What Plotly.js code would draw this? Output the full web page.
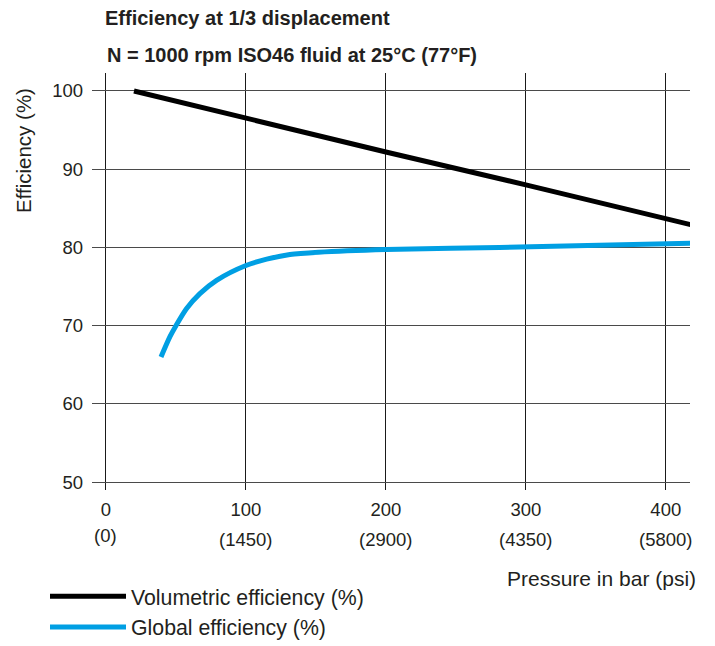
<!DOCTYPE html>
<html>
<head>
<meta charset="utf-8">
<script src="https://cdn.plot.ly/plotly-3.0.1.min.js"></script>
<style>html,body{margin:0;padding:0;background:#fff;}#chart{width:715px;height:646px;}</style>
</head>
<body>
<div id="chart"></div>
<script>
// ---- data ----
const titleLine1 = "Efficiency at 1/3 displacement";
const titleLine2 = "N = 1000 rpm ISO46 fluid at 25°C (77°F)";
const xTickValues = [0, 100, 200, 300, 400];
const xTickBar = ["0", "100", "200", "300", "400"];
const xTickPsi = ["(0)", "(1450)", "(2900)", "(4350)", "(5800)"];
const yTickValues = [50, 60, 70, 80, 90, 100];
const xAxisTitle = "Pressure in bar (psi)";
const yAxisTitle = "Efficiency (%)";

const volName = "Volumetric efficiency (%)";
const volPressure = [20, 100, 200, 300, 418];
const volEfficiency = [100, 96.5, 92.2, 88.0, 82.9];

const globName = "Global efficiency (%)";
const globPressure = [39.3, 45.7, 50, 57.6, 67.1, 79, 100, 114.8, 131.4, 151.7, 200, 281, 418];
const globEfficiency = [66.0, 68.6, 70.0, 72.2, 74.1, 75.8, 77.7, 78.5, 79.1, 79.4, 79.75, 80.0, 80.55];

// ---- layout helpers ----
const W = 715, H = 646;
const M = {l: 92, r: 25, t: 73, b: 156};
const PW = W - M.l - M.r, PH = H - M.t - M.b;
const px2x = p => (p - M.l) / PW;
const py2y = p => (H - M.b - p) / PH;

const font = "Liberation Sans, Arial, sans-serif";
const txt = "#231f20";

const traces = [
  {x: volPressure, y: volEfficiency, name: volName, type: "scatter", mode: "lines",
   line: {color: "#000000", width: 5}},
  {x: globPressure, y: globEfficiency, name: globName, type: "scatter", mode: "lines",
   line: {color: "#009FE3", width: 5, shape: "spline", smoothing: 0.8}}
];

const annotations = [
  {text: titleLine2, xref: "paper", yref: "paper", x: px2x(105), y: py2y(55),
   xanchor: "left", yanchor: "middle", showarrow: false,
   font: {family: font, size: 20, color: txt, weight: "bold"}},
  {text: yAxisTitle, xref: "paper", yref: "paper", x: px2x(24), y: py2y(151),
   xanchor: "center", yanchor: "middle", textangle: -90, showarrow: false,
   font: {family: font, size: 20.5, color: txt}},
  {text: xAxisTitle, xref: "paper", yref: "paper", x: px2x(698), y: py2y(578),
   xanchor: "right", yanchor: "middle", showarrow: false,
   font: {family: font, size: 21, color: txt}}
];
xTickValues.forEach((v, i) => {
  annotations.push({text: xTickPsi[i], xref: "x", yref: "paper", x: v, y: 0,
    xanchor: "center", yanchor: "middle", yshift: i === 0 ? -45 : -49, showarrow: false,
    font: {family: font, size: 18.5, color: txt}});
});

const layout = {
  width: W, height: H,
  margin: Object.assign({autoexpand: false}, M),
  paper_bgcolor: "#ffffff", plot_bgcolor: "#ffffff",
  showlegend: true,
  title: {text: titleLine1, xref: "container", yref: "container",
          x: 105 / W, xanchor: "left", y: 1 - 18 / H, yanchor: "middle",
          font: {family: font, size: 20, color: txt, weight: "bold"}},
  xaxis: {range: [-10, 417.3], tickmode: "array", tickvals: xTickValues, ticktext: xTickBar,
          showgrid: true, gridcolor: "#1a1a1a", gridwidth: 1, zeroline: false, showline: false,
          ticks: "", ticklabelstandoff: 6, fixedrange: true,
          tickfont: {family: font, size: 18.5, color: txt}},
  yaxis: {range: [49, 102.3], tickmode: "array", tickvals: yTickValues,
          showgrid: true, gridcolor: "#4a4a4a", gridwidth: 1, zeroline: false, showline: false,
          ticks: "", ticklabelstandoff: 8, fixedrange: true,
          tickfont: {family: font, size: 18.5, color: txt}},
  legend: {xref: "container", yref: "container", x: 45 / W, y: 1 - 576 / H,
           xanchor: "left", yanchor: "top", itemwidth: 76,
           bgcolor: "rgba(0,0,0,0)", borderwidth: 0, tracegroupgap: 0,
           font: {family: font, size: 21.3, color: txt}},
  annotations: annotations
};

Plotly.newPlot("chart", traces, layout, {displayModeBar: false, staticPlot: true});
</script>
</body>
</html>
